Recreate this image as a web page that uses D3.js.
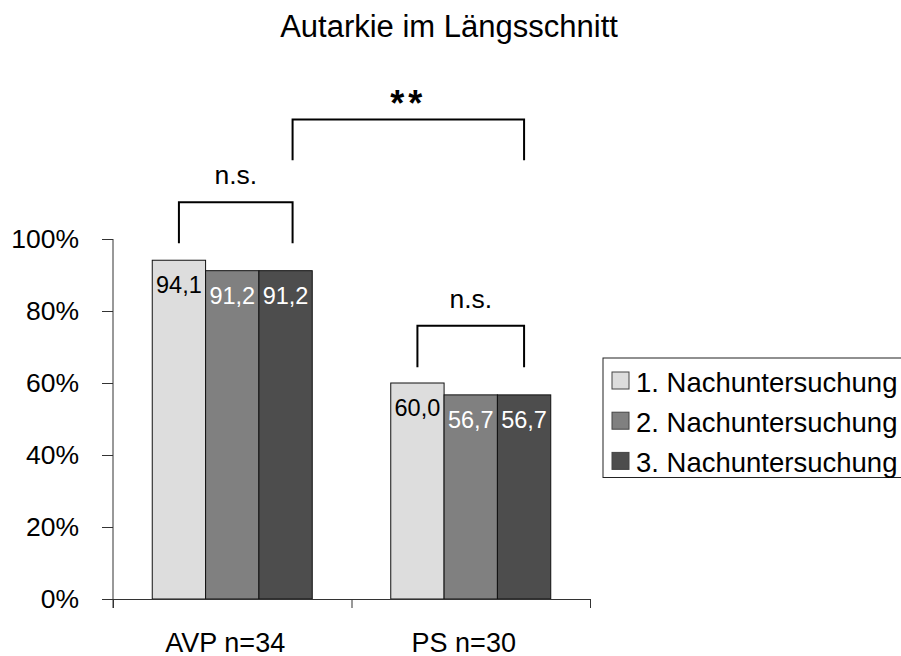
<!DOCTYPE html>
<html lang="de">
<head>
  <meta charset="utf-8">
  <title>Autarkie im Längsschnitt</title>
  <script src="https://cdnjs.cloudflare.com/ajax/libs/d3/7.8.5/d3.min.js"></script>
  <style type="text/css">
	body { margin: 0; background: #fff; }
	svg { display: block; font-family: "Liberation Sans", Arial, sans-serif; }
	.axis path, .axis line { stroke: #333; stroke-width: 1; }
	.axis text { font-size: 26.5px; fill: #000; font-family: "Liberation Sans", Arial, sans-serif; }
  </style>
</head>
<body>
<svg id="chart"></svg>
<script>
	var categories = ["AVP n=34", "PS n=30"];
	var series = ["1. Nachuntersuchung", "2. Nachuntersuchung", "3. Nachuntersuchung"];
	var values = [
		[94.1, 91.2, 91.2],
		[60.0, 56.7, 56.7]
	];
	var valueLabels = [
		["94,1", "91,2", "91,2"],
		["60,0", "56,7", "56,7"]
	];
	var yTicks = [0, 20, 40, 60, 80, 100];
	var colors = ["#dddddd", "#808080", "#4d4d4d"];
	var labelColors = ["#000", "#fff", "#fff"];
	// significance brackets: category, first bar, last bar, top and bottom (in %)
	var brackets = [
		{ label: "n.s.", from: [0, 0], to: [0, 2], top: 110.2, bottom: 98.8 },
		{ label: "**",   from: [0, 2], to: [1, 2], top: 133.2, bottom: 121.9 },
		{ label: "n.s.", from: [1, 0], to: [1, 2], top: 75.9,  bottom: 64.4 }
	];

	var w = 901, h = 656;
	var plotLeft = 113, plotRight = 590, plotBottom = 599, plotTop = 239;

	var svg = d3.select("#chart").attr("width", w).attr("height", h);

	var x0 = d3.scaleBand().domain(categories).range([plotLeft, plotRight]);
	var x1 = d3.scaleBand().domain(d3.range(series.length))
		.range([0, x0.bandwidth()]).paddingOuter(0.736);
	var y = d3.scaleLinear().domain([0, 100]).range([plotBottom, plotTop]);

	//title
	svg.append("text")
		.attr("x", 449)
		.attr("y", 37)
		.attr("text-anchor", "middle")
		.style("font-size", "31px")
		.text("Autarkie im Längsschnitt");

	//bars
	var groups = svg.selectAll("g.group").data(values)
		.enter().append("g")
		.attr("class", "group")
		.attr("transform", function(d, i) { return "translate(" + x0(categories[i]) + ",0)"; });

	groups.selectAll("rect").data(function(d) { return d; })
		.enter().append("rect")
		.attr("x", function(d, j) { return x1(j); })
		.attr("y", function(d) { return y(d); })
		.attr("width", x1.bandwidth())
		.attr("height", function(d) { return y(0) - y(d); })
		.attr("fill", function(d, j) { return colors[j]; })
		.attr("stroke", "#111")
		.attr("stroke-width", 1);

	groups.selectAll("text.val").data(function(d, i) {
			return d.map(function(v, j) { return { v: v, j: j, t: valueLabels[i][j] }; });
		})
		.enter().append("text")
		.attr("class", "val")
		.attr("x", function(d) { return x1(d.j) + x1.bandwidth() / 2; })
		.attr("y", function(d) { return y(d.v) + 33; })
		.attr("text-anchor", "middle")
		.attr("fill", function(d) { return labelColors[d.j]; })
		.style("font-size", "23.5px")
		.text(function(d) { return d.t; });

	//axes
	var yAxis = d3.axisLeft(y).tickValues(yTicks).tickSizeInner(11).tickSizeOuter(0)
		.tickPadding(23).tickFormat(function(d) { return d + "%"; });
	svg.append("g")
		.attr("class", "y axis")
		.attr("transform", "translate(" + plotLeft + ",0)")
		.call(yAxis);
	svg.select(".y.axis .domain").attr("d", "M0," + plotTop + "V" + (plotBottom + 9));

	var xTickScale = d3.scaleLinear().domain([0, categories.length]).range([plotLeft, plotRight]);
	svg.append("g")
		.attr("class", "x axis")
		.attr("transform", "translate(0," + plotBottom + ")")
		.call(d3.axisBottom(xTickScale).ticks(categories.length).tickSizeInner(9).tickSizeOuter(0).tickFormat(""));

	svg.selectAll("text.cat").data(categories)
		.enter().append("text")
		.attr("class", "cat")
		.attr("x", function(d) { return x0(d) + x0.bandwidth() / 2 - 7; })
		.attr("y", 652)
		.attr("text-anchor", "middle")
		.style("font-size", "27px")
		.text(function(d) { return d; });

	//brackets
	function barCenter(p) {
		return x0(categories[p[0]]) + x1(p[1]) + x1.bandwidth() / 2;
	}
	brackets.forEach(function(b, i) {
		var xa = barCenter(b.from), xb = barCenter(b.to);
		if (i == 0) { xb += 7; }
		if (i == 1) { xa += 7; }
		svg.append("path")
			.attr("d", "M" + xa + "," + y(b.bottom) + "V" + y(b.top) + "H" + xb + "V" + y(b.bottom))
			.attr("fill", "none")
			.attr("stroke", "#000")
			.attr("stroke-width", 2);
		svg.append("text")
			.attr("x", (xa + xb) / 2)
			.attr("y", b.label == "**" ? y(b.top) - 3 : y(b.top) - 18)
			.attr("text-anchor", "middle")
			.attr("font-weight", b.label == "**" ? "bold" : "normal")
			.style("font-size", b.label == "**" ? "36px" : "26.5px")
			.style("letter-spacing", b.label == "**" ? "4px" : "0px")
			.text(b.label);
	});

	//legend
	var legend = svg.append("g").attr("transform", "translate(603,358)");
	legend.append("rect")
		.attr("width", 320).attr("height", 119.5)
		.attr("fill", "#fff").attr("stroke", "#222").attr("stroke-width", 1);
	var items = legend.selectAll("g.item").data(series)
		.enter().append("g")
		.attr("class", "item")
		.attr("transform", function(d, i) { return "translate(9," + (14 + i * 40.2) + ")"; });
	items.append("rect")
		.attr("width", 17).attr("height", 17)
		.attr("fill", function(d, i) { return colors[i]; })
		.attr("stroke", "#444");
	items.append("text")
		.attr("x", 24).attr("y", 20)
		.style("font-size", "27.5px")
		.text(function(d) { return d; });
</script>
</body>
</html>
